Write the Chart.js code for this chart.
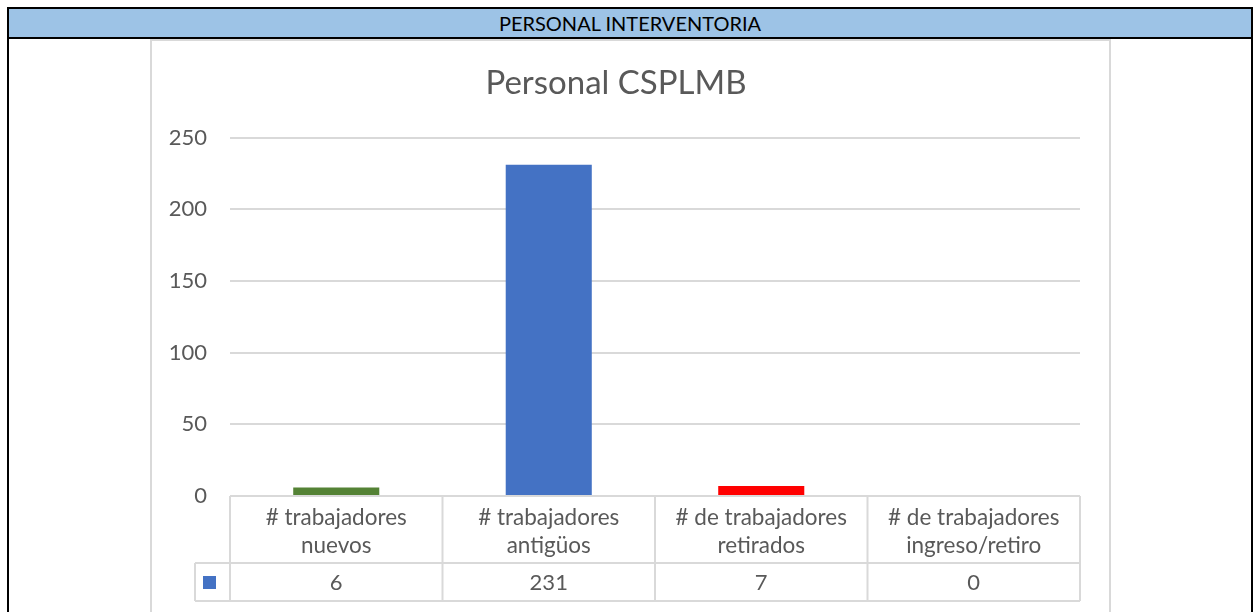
<!DOCTYPE html>
<html>
<head>
<meta charset="utf-8">
<script src="https://cdn.jsdelivr.net/npm/chart.js@4.4.0/dist/chart.umd.min.js"></script>
<style>
  body { margin: 0; background: #fff; font-family: Lato, sans-serif; }
  #outer { position: absolute; left: 7px; top: 7px; width: 1242px; height: 610px; border: 2px solid #000; border-bottom: none; }
  #head { height: 28px; line-height: 29px; background: #9DC3E6; border-bottom: 2px solid #000; text-align: center; font-size: 20px; color: #000; }
  #frame { position: absolute; left: 150px; top: 39px; width: 957px; height: 580px; border: 2px solid #D9D9D9; border-bottom: none; background: #fff; }
  #box { position: relative; width: 957px; height: 571px; }
</style>
</head>
<body>
<div id="outer"><div id="head">PERSONAL INTERVENTORIA</div></div>
<div id="frame"><div id="box"><canvas id="myChart"></canvas></div></div>
<script>
const categories = [
  ['# trabajadores', 'nuevos'],
  ['# trabajadores', 'antigüos'],
  ['# de trabajadores', 'retirados'],
  ['# de trabajadores', 'ingreso/retiro']
];
const values = [6, 231, 7, 0];
const barColors = ['#548235', '#4472C4', '#FF0000', '#A5A5A5'];
const yTicks = [0, 50, 100, 150, 200, 250];

const textColor = '#595959';
const lineColor = '#D9D9D9';

// draws the data table under the plot (grid lines, legend key, values)
const dataTable = {
  id: 'dataTable',
  afterDraw(chart) {
    const ctx = chart.ctx;
    const xs = chart.scales.x;
    const ys = chart.scales.y;
    const n = categories.length;
    const colW = (xs.right - xs.left) / n;
    const y0 = ys.bottom;
    const y1 = y0 + 67;
    const y2 = y0 + 105;
    const keyLeft = 43;

    ctx.save();
    ctx.strokeStyle = lineColor;
    ctx.lineWidth = 2;
    ctx.beginPath();
    ctx.moveTo(xs.left, y0); ctx.lineTo(xs.right, y0);
    ctx.moveTo(keyLeft, y1); ctx.lineTo(xs.right, y1);
    ctx.moveTo(keyLeft, y2); ctx.lineTo(xs.right, y2);
    ctx.moveTo(keyLeft, y1); ctx.lineTo(keyLeft, y2);
    for (let i = 0; i <= n; i++) {
      const x = xs.left + i * colW;
      ctx.moveTo(x, y0); ctx.lineTo(x, y2);
    }
    ctx.stroke();

    ctx.fillStyle = '#4472C4';
    ctx.fillRect(keyLeft + 8, (y1 + y2) / 2 - 6, 13, 13);

    ctx.fillStyle = textColor;
    ctx.font = '22px Lato';
    ctx.textAlign = 'center';
    ctx.textBaseline = 'middle';
    values.forEach(function(v, i) {
      ctx.fillText(String(v), xs.getPixelForValue(i), (y1 + y2) / 2 + 1);
    });
    ctx.restore();
  }
};

const ctx = document.getElementById('myChart');
new Chart(ctx, {
  type: 'bar',
  data: {
    labels: categories,
    datasets: [{
      data: values,
      backgroundColor: barColors,
      categoryPercentage: 1,
      barPercentage: 0.405
    }]
  },
  options: {
    responsive: true,
    maintainAspectRatio: false,
    animation: false,
    layout: { padding: { left: 0, right: 29, top: 0, bottom: 0 } },
    plugins: {
      legend: { display: false },
      tooltip: { enabled: false },
      title: {
        display: true,
        text: 'Personal CSPLMB',
        color: textColor,
        font: { family: 'Lato', size: 33, weight: 'normal' },
        padding: { top: 23, bottom: 34 }
      }
    },
    scales: {
      x: {
        grid: { display: false, drawTicks: false },
        border: { display: false },
        ticks: {
          color: textColor,
          font: { family: 'Lato', size: 22.5, lineHeight: 1.25 },
          padding: 8,
          maxRotation: 0
        },
        afterFit: function(scale) { scale.height = 116; }
      },
      y: {
        min: 0,
        max: 250,
        grid: { color: lineColor, lineWidth: 2, drawTicks: false },
        border: { display: false },
        afterBuildTicks: function(scale) {
          scale.ticks = yTicks.map(function(v) { return { value: v }; });
        },
        ticks: {
          color: textColor,
          font: { family: 'Lato', size: 22 },
          padding: 23
        },
        afterFit: function(scale) { scale.width = 78; }
      }
    }
  },
  plugins: [dataTable]
});
</script>
</body>
</html>
